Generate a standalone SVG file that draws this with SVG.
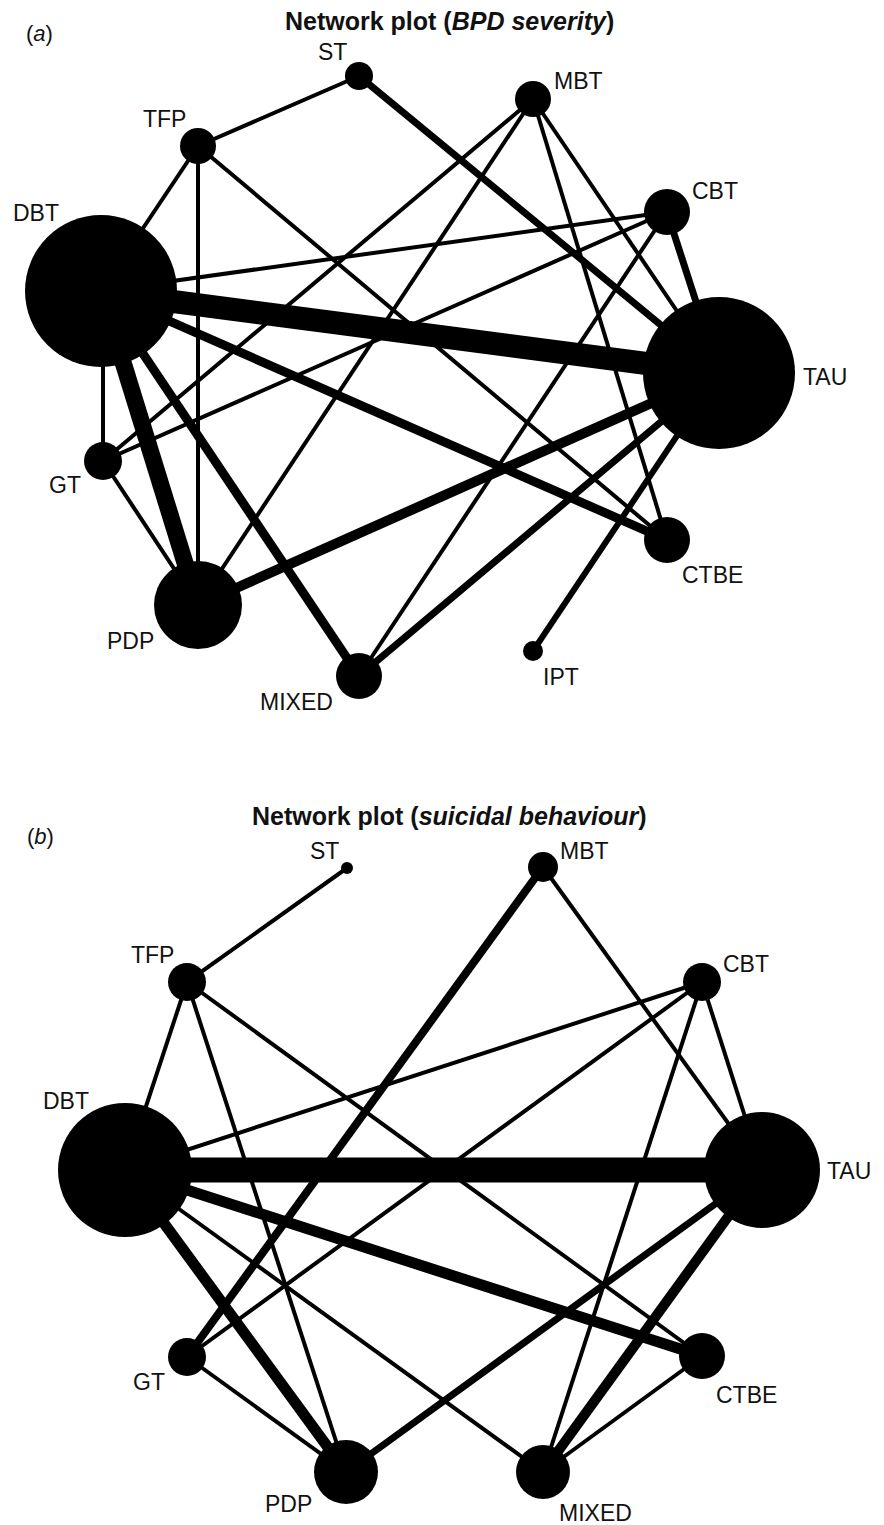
<svg xmlns="http://www.w3.org/2000/svg" width="884" height="1525" viewBox="0 0 884 1525">
<defs>
<style>
.e{stroke:#000;fill:none;stroke-linecap:butt}
.t{stroke-width:4}
.n{fill:#000}
.lbl{font-family:"Liberation Sans",Arial,Helvetica,sans-serif;font-size:23px;fill:#111}
.ttl{font-family:"Liberation Sans",Arial,Helvetica,sans-serif;font-size:25px;font-weight:bold;fill:#111}
.pl{font-family:"Liberation Sans",Arial,Helvetica,sans-serif;font-size:22px;fill:#111}
</style>
<clipPath id="clipA"><rect x="0" y="0" width="846" height="760"/></clipPath>
</defs>
<rect width="884" height="1525" fill="#fff"/>

<!-- Panel (a) -->
<text class="pl" x="26" y="41">(<tspan font-style="italic">a</tspan>)</text>
<text class="ttl" x="285" y="30">Network plot (<tspan font-style="italic">BPD severity</tspan>)</text>

<g id="connectors-a">
<line class="e t" x1="101" y1="291" x2="198" y2="146"/>
<line class="e t" x1="101" y1="291" x2="667" y2="212"/>
<line class="e" stroke-width="23" x1="101" y1="292" x2="719" y2="373"/>
<line class="e" stroke-width="9" x1="101" y1="291" x2="667" y2="540"/>
<line class="e" stroke-width="9" x1="101" y1="291" x2="359" y2="676"/>
<line class="e" stroke-width="17" x1="101" y1="291" x2="198" y2="605"/>
<line class="e t" x1="103" y1="291" x2="103" y2="461"/>
<line class="e t" x1="198" y1="146" x2="359" y2="76"/>
<line class="e t" x1="198" y1="146" x2="198" y2="605"/>
<line class="e t" x1="198" y1="146" x2="667" y2="540"/>
<line class="e" stroke-width="7" x1="359" y1="76" x2="719" y2="373"/>
<line class="e t" x1="533" y1="99" x2="103" y2="461"/>
<line class="e t" x1="533" y1="99" x2="198" y2="605"/>
<line class="e t" x1="533" y1="99" x2="719" y2="373"/>
<line class="e t" x1="533" y1="99" x2="667" y2="540"/>
<line class="e t" x1="667" y1="212" x2="103" y2="461"/>
<line class="e t" x1="667" y1="212" x2="359" y2="676"/>
<line class="e" stroke-width="7" x1="667" y1="212" x2="719" y2="373"/>
<line class="e" stroke-width="10" x1="719" y1="373" x2="198" y2="605"/>
<line class="e" stroke-width="7" x1="719" y1="373" x2="359" y2="676"/>
<line class="e" stroke-width="6" x1="719" y1="373" x2="533" y2="651"/>
<line class="e t" x1="103" y1="461" x2="198" y2="605"/>
</g>

<g id="a-ST"><circle class="n" cx="359" cy="76" r="14"/><text class="lbl" x="318" y="60">ST</text></g>
<g id="a-TFP"><circle class="n" cx="198" cy="146" r="18"/><text class="lbl" x="143" y="127">TFP</text></g>
<g id="a-DBT"><circle class="n" cx="101" cy="291" r="76"/><text class="lbl" x="13" y="221">DBT</text></g>
<g id="a-MBT"><circle class="n" cx="533" cy="99" r="18"/><text class="lbl" x="554" y="89">MBT</text></g>
<g id="a-CBT"><circle class="n" cx="667" cy="212" r="23"/><text class="lbl" x="692" y="199">CBT</text></g>
<g id="a-TAU"><circle class="n" cx="719" cy="373" r="76"/><text class="lbl" x="803" y="385" clip-path="url(#clipA)">TAU</text></g>
<g id="a-GT"><circle class="n" cx="103" cy="461" r="19"/><text class="lbl" x="49" y="493">GT</text></g>
<g id="a-PDP"><circle class="n" cx="198" cy="605" r="44"/><text class="lbl" x="107" y="649">PDP</text></g>
<g id="a-MIXED"><circle class="n" cx="359" cy="676" r="23"/><text class="lbl" x="260" y="710">MIXED</text></g>
<g id="a-CTBE"><circle class="n" cx="667" cy="540" r="23"/><text class="lbl" x="682" y="583">CTBE</text></g>
<g id="a-IPT"><circle class="n" cx="533" cy="651" r="10"/><text class="lbl" x="543" y="685">IPT</text></g>

<!-- Panel (b) -->
<text class="pl" x="27" y="844">(<tspan font-style="italic">b</tspan>)</text>
<text class="ttl" x="252" y="825">Network plot (<tspan font-style="italic">suicidal behaviour</tspan>)</text>

<g id="connectors-b">
<line class="e t" x1="347" y1="868" x2="187" y2="982"/>
<line class="e t" x1="187" y1="982" x2="125" y2="1170"/>
<line class="e t" x1="187" y1="982" x2="346" y2="1472"/>
<line class="e t" x1="187" y1="982" x2="702" y2="1356"/>
<line class="e t" x1="125" y1="1170" x2="702" y2="982"/>
<line class="e" stroke-width="25" x1="125" y1="1170" x2="762" y2="1170"/>
<line class="e" stroke-width="11" x1="125" y1="1170" x2="346" y2="1472"/>
<line class="e" stroke-width="11" x1="125" y1="1170" x2="702" y2="1356"/>
<line class="e t" x1="125" y1="1170" x2="543" y2="1472"/>
<line class="e" stroke-width="8" x1="543" y1="867" x2="187" y2="1357"/>
<line class="e t" x1="543" y1="867" x2="762" y2="1170"/>
<line class="e t" x1="702" y1="982" x2="762" y2="1170"/>
<line class="e t" x1="702" y1="982" x2="187" y2="1357"/>
<line class="e t" x1="702" y1="982" x2="543" y2="1472"/>
<line class="e t" x1="187" y1="1357" x2="346" y2="1472"/>
<line class="e" stroke-width="7" x1="346" y1="1472" x2="762" y2="1170"/>
<line class="e" stroke-width="10" x1="543" y1="1472" x2="762" y2="1170"/>
<line class="e t" x1="543" y1="1472" x2="702" y2="1356"/>
</g>

<g id="b-ST"><circle class="n" cx="347" cy="868" r="6"/><text class="lbl" x="310" y="859">ST</text></g>
<g id="b-MBT"><circle class="n" cx="543" cy="867" r="15"/><text class="lbl" x="560" y="859">MBT</text></g>
<g id="b-TFP"><circle class="n" cx="187" cy="982" r="19"/><text class="lbl" x="131" y="963">TFP</text></g>
<g id="b-CBT"><circle class="n" cx="702" cy="982" r="19"/><text class="lbl" x="723" y="972">CBT</text></g>
<g id="b-DBT"><circle class="n" cx="125" cy="1170" r="67"/><text class="lbl" x="43" y="1109">DBT</text></g>
<g id="b-TAU"><circle class="n" cx="762" cy="1170" r="58"/><text class="lbl" x="827" y="1179">TAU</text></g>
<g id="b-GT"><circle class="n" cx="187" cy="1357" r="19"/><text class="lbl" x="133" y="1390">GT</text></g>
<g id="b-CTBE"><circle class="n" cx="702" cy="1356" r="23"/><text class="lbl" x="716" y="1403">CTBE</text></g>
<g id="b-PDP"><circle class="n" cx="346" cy="1472" r="32"/><text class="lbl" x="265" y="1512">PDP</text></g>
<g id="b-MIXED"><circle class="n" cx="543" cy="1472" r="27"/><text class="lbl" x="559" y="1521">MIXED</text></g>
</svg>
